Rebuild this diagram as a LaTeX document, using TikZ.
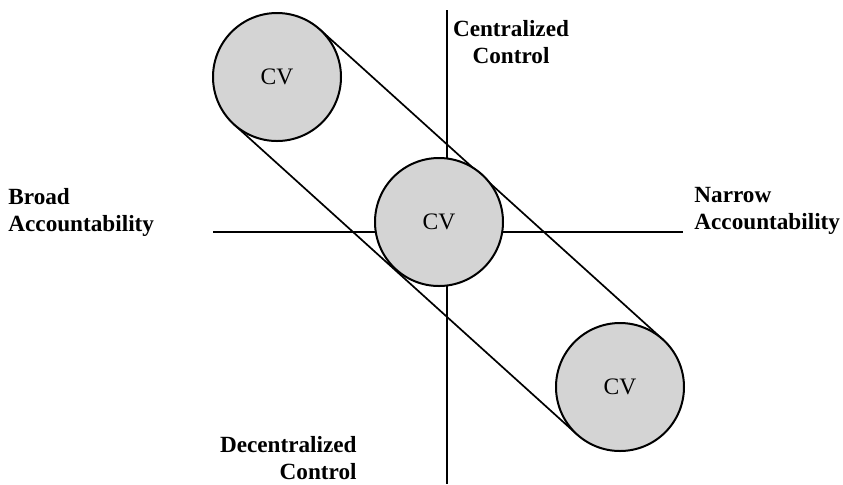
\documentclass[tikz,border=0pt]{standalone}
\usepackage{fontspec}
\setmainfont{Liberation Serif}
\usetikzlibrary{calc}

\begin{document}
\begin{tikzpicture}[x=0.5pt,y=-0.5pt,
  axis/.style={line width=0.85pt},
  cv/.style={circle,draw,line width=1pt,fill=black!17,minimum size=64pt,inner sep=0pt,
    font=\fontsize{11.8}{13.5}\selectfont},
  axistext/.style={inner sep=0pt,font=\fontsize{11.6}{13.4}\selectfont\bfseries}]
\useasboundingbox (0,0) rectangle (843,484);
% Centres of the three circles
\coordinate (ctop) at (277,77);
\coordinate (cmid) at (439,222);
\coordinate (cbot) at (620,387);
% Draw the two axes
\coordinate (ntop) at (447,10);
\coordinate (nbot) at (447,484);
\coordinate (wend) at (213,232);
\coordinate (eend) at (683,232);
\draw [axis] (ntop) -- (nbot);
\draw [axis] (wend) -- (eend);
% Draw the two lines tangent to the outer circles
\draw [axis] ($(ctop)!32pt!90:(cbot)$) -- ($(cbot)!32pt!-90:(ctop)$);
\draw [axis] ($(ctop)!32pt!-90:(cbot)$) -- ($(cbot)!32pt!90:(ctop)$);
% Circles on top
\node [cv] (cvtop) at (ctop) {CV};
\node [cv] (cvmid) at (cmid) {CV};
\node [cv] (cvbot) at (cbot) {CV};
% Axis labels
\node [axistext,align=center,anchor=north] (central) at (511,20) {Centralized\\Control};
\node [axistext,align=right,anchor=north east] (decentral) at (357,436) {Decentralized\\Control};
\node [axistext,align=left,anchor=north west] (broad) at (8,188) {Broad\\Accountability};
\node [axistext,align=left,anchor=north west] (narrow) at (694,187) {Narrow\\Accountability};
\end{tikzpicture}
\end{document}
